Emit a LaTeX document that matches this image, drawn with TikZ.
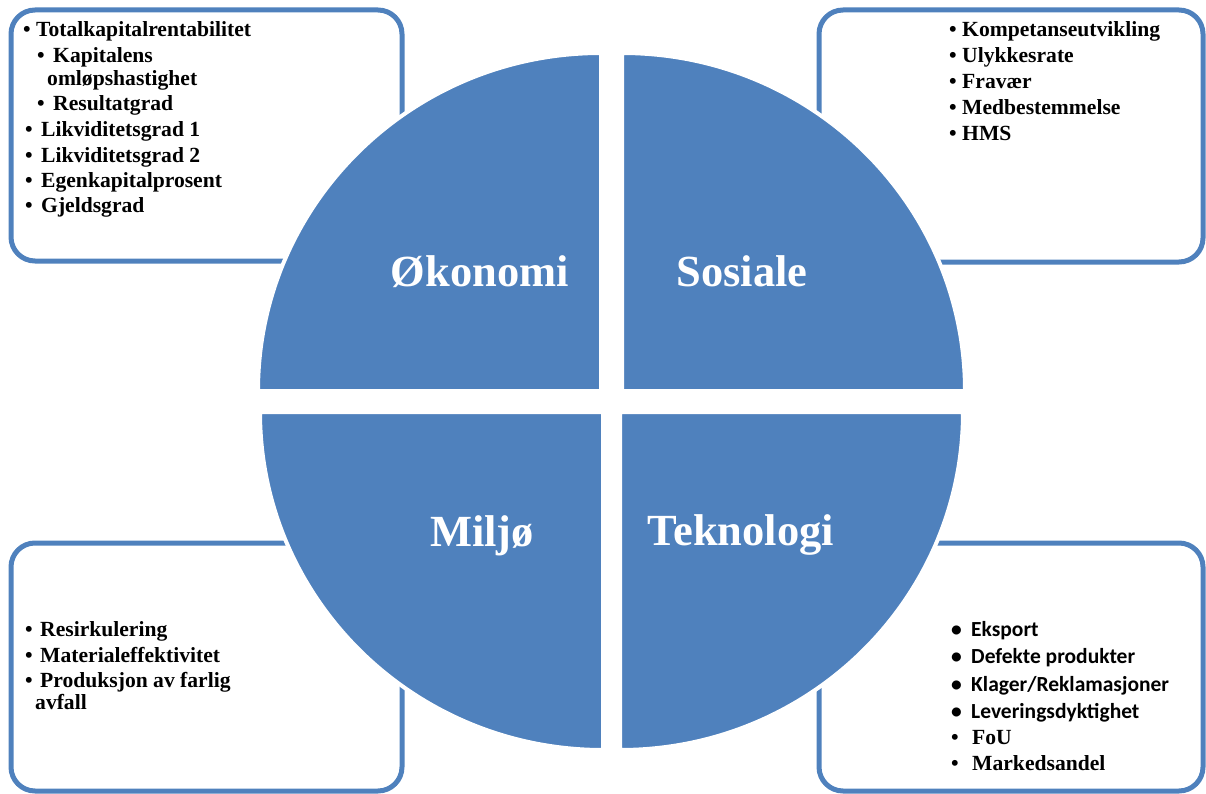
\documentclass[tikz,border=0pt]{standalone}
\usepackage{fontspec}
\setmainfont{Liberation Serif}
\newfontfamily\calibrifont{Carlito}
\definecolor{accentblue}{HTML}{4F81BD}

% one bullet line: name, bullet x, text x, baseline y, text
\newcommand\bulletline[5]{%
  \node[itemtext] (#1b) at (#2,#4) {\textbullet};
  \node[itemtext] (#1) at (#3,#4) {#5};}

\begin{document}
\begin{tikzpicture}[x=1pt,y=-1pt,
  infobox/.style={draw=accentblue,line width=5pt,rounded corners=24pt},
  quadrant/.style={fill=accentblue,draw=white,line width=4pt},
  itemtext/.style={anchor=base west,inner sep=0pt,font=\fontsize{21.6}{26}\selectfont\bfseries},
  sansitem/.style={itemtext,font=\fontsize{21.5}{26}\selectfont\calibrifont\bfseries},
  title/.style={anchor=base,inner sep=0pt,text=white,font=\fontsize{44.5}{50}\selectfont\bfseries}]

\useasboundingbox (0,0) rectangle (1206,794);

% corner boxes
\draw[infobox] (11,10) rectangle (402,261);
\draw[infobox] (819,10) rectangle (1203,262);
\draw[infobox] (11,543) rectangle (402,791);
\draw[infobox] (819,543) rectangle (1203,791);

% the four quarter discs
\filldraw[quadrant] (601,391) -- ++(180:343 and 338)
  arc[start angle=180,end angle=270,x radius=343,y radius=338] -- cycle;
\filldraw[quadrant] (622,391) -- ++(270:343 and 338)
  arc[start angle=270,end angle=360,x radius=343,y radius=338] -- cycle;
\filldraw[quadrant] (603,412) -- ++(180:343 and 338)
  arc[start angle=180,end angle=90,x radius=343,y radius=338] -- cycle;
\filldraw[quadrant] (620,412) -- ++(0:343 and 338)
  arc[start angle=0,end angle=90,x radius=343,y radius=338] -- cycle;

% titles
\node[title] (oko) at (480,286) {Økonomi};
\node[title] (sos) at (742,286) {Sosiale};
\node[title] (mil) at (482,546) {Miljø};
\node[title] (tek) at (741,545) {Teknologi};

% economy indicators
\bulletline{e1}{23}{36}{37}{Totalkapitalrentabilitet}
\bulletline{e2}{37}{53}{63}{Kapitalens}
\node[itemtext] (e2b2) at (47,86) {omløpshastighet};
\bulletline{e3}{37}{53}{111}{Resultatgrad}
\bulletline{e4}{25}{41}{137}{Likviditetsgrad 1}
\bulletline{e5}{25}{41}{163}{Likviditetsgrad 2}
\bulletline{e6}{25}{41}{188}{Egenkapitalprosent}
\bulletline{e7}{25}{41}{213}{Gjeldsgrad}

% social indicators
\bulletline{s1}{949}{962}{37}{Kompetanseutvikling}
\bulletline{s2}{949}{962}{63}{Ulykkesrate}
\bulletline{s3}{949}{962}{89}{Fravær}
\bulletline{s4}{949}{962}{115}{Medbestemmelse}
\bulletline{s5}{949}{962}{141}{HMS}

% environment indicators
\bulletline{m1}{25}{40}{636}{Resirkulering}
\bulletline{m2}{25}{40}{662}{Materialeffektivitet}
\bulletline{m3}{25}{40}{687}{Produksjon av farlig}
\node[itemtext] (m3b2) at (35,709) {avfall};

% technology indicators
\node[sansitem] (t1b) at (951,636) {•};
\node[sansitem] (t1) at (971,636) {Eksport};
\node[sansitem] (t2b) at (951,663) {•};
\node[sansitem] (t2) at (971,663) {Defekte produkter};
\node[sansitem] (t3b) at (951,691) {•};
\node[sansitem] (t3) at (971,691) {Klager/Reklamasjoner};
\node[sansitem] (t4b) at (951,718) {•};
\node[sansitem] (t4) at (971,718) {Leveringsdyktighet};
\bulletline{t5}{951}{972}{744}{FoU}
\bulletline{t6}{951}{972}{770}{Markedsandel}
\end{tikzpicture}
\end{document}
